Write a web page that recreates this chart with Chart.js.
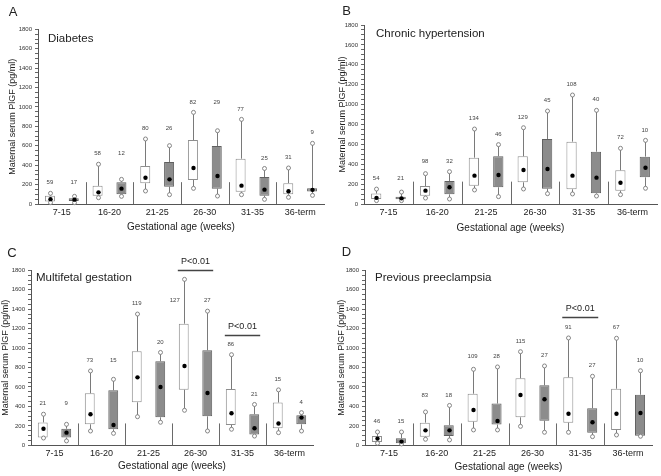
<!DOCTYPE html>
<html>
<head>
<meta charset="utf-8">
<script src="https://cdn.jsdelivr.net/npm/chart.js@4.4.0/dist/chart.umd.min.js"></script>
<style>
  body { margin: 0; background: #fff; width: 661px; height: 476px; position: relative; overflow: hidden; }
  canvas { position: absolute; }
</style>
</head>
<body>
<canvas id="cA" width="330" height="236" style="left:0;top:0"></canvas>
<canvas id="cB" width="331" height="236" style="left:330px;top:0"></canvas>
<canvas id="cC" width="330" height="240" style="left:0;top:236px"></canvas>
<canvas id="cD" width="331" height="240" style="left:330px;top:236px"></canvas>
<script>
/* ===== DATA (box = [min, q1, median, q3, max]) ===== */
const groups = ["7-15", "16-20", "21-25", "26-30", "31-35", "36-term"];

const diabetesWhite = [[14, 26, 50, 86, 110], [65, 86, 120, 187, 410], [134, 213, 271, 392, 670], [161, 247, 371, 659, 944], [96, 127, 189, 467, 872], [69, 100, 131, 215, 371]];
const diabetesGray = [[14, 30, 45, 58, 79], [79, 100, 158, 225, 254], [96, 179, 254, 433, 601], [82, 158, 288, 597, 755], [48, 86, 148, 278, 366], [89, 130, 146, 162, 625]];
const diabetesNWhite = [59, 58, 80, 82, 77, 31];
const diabetesNGray = [17, 12, 26, 29, 25, 9];

const hypertensionWhite = [[34, 50, 62, 105, 150], [60, 84, 134, 181, 305], [141, 184, 285, 466, 754], [151, 218, 342, 480, 767], [101, 148, 285, 627, 1096], [94, 134, 214, 339, 560]];
const hypertensionGray = [[34, 47, 57, 74, 120], [50, 97, 168, 231, 325], [74, 168, 292, 480, 597], [104, 154, 352, 654, 935], [80, 107, 265, 526, 942], [158, 268, 365, 476, 640]];
const hypertensionNWhite = [54, 98, 134, 129, 108, 72];
const hypertensionNGray = [21, 32, 46, 45, 40, 10];

const multifetalWhite = [[75, 80, 171, 235, 320], [147, 216, 319, 535, 765], [294, 442, 699, 967, 1350], [360, 572, 816, 1251, 1707], [165, 209, 329, 579, 932], [130, 175, 225, 440, 570]];
const multifetalGray = [[45, 79, 130, 171, 216], [123, 165, 209, 565, 679], [237, 288, 600, 864, 955], [147, 298, 538, 977, 1380], [95, 110, 175, 320, 420], [147, 216, 285, 309, 336]];
const multifetalNWhite = [21, 73, 119, 127, 86, 15];
const multifetalNGray = [9, 15, 20, 27, 21, 4];

const previousWhite = [[21, 34, 69, 96, 137], [62, 89, 154, 233, 343], [158, 243, 363, 531, 782], [195, 288, 517, 689, 963], [134, 233, 325, 699, 1104], [106, 157, 325, 582, 1101]];
const previousGray = [[14, 21, 38, 72, 137], [55, 96, 154, 206, 410], [158, 213, 250, 429, 806], [134, 253, 473, 617, 816], [89, 130, 237, 381, 710], [93, 99, 332, 520, 767]];
const previousNWhite = [46, 83, 109, 115, 91, 67];
const previousNGray = [15, 18, 28, 27, 27, 10];

// P<0.01 brackets: group index and level (pg/ml)
const multifetalBrackets = [[3, 1806], [4, 1134]];
const previousBrackets = [[4, 1317]];

const FONT = "'Liberation Sans', Arial, sans-serif";

/* ===== PANELS ===== */
// shared: 0 = N above own whisker, 1 = pair at same height, 2 = at grey height, white label beside whisker
const panels = {
  cA: { letter: "A", name: "Diabetes", white: diabetesWhite, gray: diabetesGray, nW: diabetesNWhite, nG: diabetesNGray,
        shared: [1, 1, 1, 1, 0, 0], brackets: [],
        area: { left: 38, right: 324, top: 29.3, bottom: 204 }, letterPos: [13, 12], namePos: [48, 38.5], yTitleX: 12.5, xTitleDy: 23 },
  cB: { letter: "B", name: "Chronic hypertension", white: hypertensionWhite, gray: hypertensionGray, nW: hypertensionNWhite, nG: hypertensionNGray,
        shared: [1, 1, 0, 0, 0, 0], brackets: [],
        area: { left: 34, right: 327, top: 25, bottom: 204 }, letterPos: [16.5, 11.5], namePos: [46, 33.5], yTitleX: 13, xTitleDy: 24 },
  cC: { letter: "C", name: "Multifetal gestation", white: multifetalWhite, gray: multifetalGray, nW: multifetalNWhite, nG: multifetalNGray,
        shared: [1, 1, 0, 2, 0, 0], brackets: multifetalBrackets,
        area: { left: 31, right: 313, top: 34.3, bottom: 209.3 }, letterPos: [12, 17], namePos: [36, 42], yTitleX: 6, xTitleDy: 21 },
  cD: { letter: "D", name: "Previous preeclampsia", white: previousWhite, gray: previousGray, nW: previousNWhite, nG: previousNGray,
        shared: [1, 1, 1, 0, 0, 0], brackets: previousBrackets,
        area: { left: 35, right: 322, top: 34.3, bottom: 209.3 }, letterPos: [16.5, 16.5], namePos: [45, 42], yTitleX: 11.5, xTitleDy: 21.5 }
};

function line(ctx, x1, y1, x2, y2) {
  ctx.beginPath(); ctx.moveTo(x1, y1); ctx.lineTo(x2, y2); ctx.stroke();
}

/* ===== BOX PLOT PLUGIN ===== */
const boxPlugin = {
  id: "boxPlot",
  afterDatasetsDraw(chart) {
    const p = panels[chart.canvas.id];
    const ctx = chart.ctx, ys = chart.scales.y, xs = chart.scales.x;
    const Y = v => ys.getPixelForValue(v);
    const metaW = chart.getDatasetMeta(0), metaG = chart.getDatasetMeta(1);
    ctx.save();

    // group separators
    ctx.strokeStyle = "#6a6a6a"; ctx.lineWidth = 1;
    for (let i = 0; i < groups.length - 1; i++) {
      const sx = Math.round((xs.getPixelForValue(i) + xs.getPixelForValue(i + 1)) / 2) + 0.5;
      line(ctx, sx, Y(0), sx, Y(225));
    }

    // whiskers, end circles, medians
    [[p.white, metaW], [p.gray, metaG]].forEach(([series, meta]) => {
      series.forEach((b, i) => {
        const bx = Math.round(meta.data[i].x) + 0.5;
        ctx.strokeStyle = "#7a7a7a"; ctx.lineWidth = 1;
        line(ctx, bx, Y(b[0]), bx, Y(b[1]));
        line(ctx, bx, Y(b[3]), bx, Y(b[4]));
        ctx.fillStyle = "#fff"; ctx.lineWidth = 0.9;
        [b[0], b[4]].forEach(v => {
          ctx.beginPath(); ctx.arc(bx, Y(v), 2, 0, Math.PI * 2); ctx.fill(); ctx.stroke();
        });
        ctx.fillStyle = "#000";
        ctx.beginPath(); ctx.arc(bx, Y(b[2]), 2.2, 0, Math.PI * 2); ctx.fill();
      });
    });

    // N labels
    ctx.font = "6px " + FONT; ctx.fillStyle = "#444";
    ctx.textAlign = "center"; ctx.textBaseline = "middle";
    groups.forEach((g, i) => {
      const wMax = p.white[i][4], gMax = p.gray[i][4];
      let wl = wMax, gl = gMax, wdx = 0;
      if (p.shared[i] === 1) wl = gl = Math.max(wMax, gMax);
      if (p.shared[i] === 2) { wl = gl = gMax; wdx = -9; }
      ctx.fillText(String(p.nW[i]), metaW.data[i].x + wdx, Y(wl) - 10.5);
      ctx.fillText(String(p.nG[i]), metaG.data[i].x, Y(gl) - 10.5);
    });

    // P<0.01 brackets
    p.brackets.forEach(([gi, level]) => {
      const w = metaW.data[gi], gr = metaG.data[gi];
      const x1 = w.x - w.width / 2 - 1, x2 = gr.x + gr.width / 2 + 1;
      const ly = Math.round(Y(level)) + 0.5;
      ctx.strokeStyle = "#444"; ctx.lineWidth = 1.4;
      line(ctx, x1, ly, x2, ly);
      ctx.font = "9px " + FONT; ctx.fillStyle = "#222";
      ctx.fillText("P<0.01", (x1 + x2) / 2, ly - 9);
    });
    ctx.restore();
  },
  afterDraw(chart) {
    const p = panels[chart.canvas.id];
    const ctx = chart.ctx, a = chart.chartArea;
    ctx.save();
    ctx.fillStyle = "#222"; ctx.textBaseline = "middle";
    // panel letter
    ctx.font = "13px " + FONT; ctx.textAlign = "center";
    ctx.fillText(p.letter, p.letterPos[0], p.letterPos[1]);
    // panel name
    ctx.font = "11.5px " + FONT; ctx.textAlign = "left";
    ctx.fillText(p.name, p.namePos[0], p.namePos[1]);
    // x title
    ctx.font = "10px " + FONT; ctx.textAlign = "center";
    ctx.fillText("Gestational age (weeks)", (a.left + a.right) / 2, a.bottom + p.xTitleDy);
    // y title
    ctx.translate(p.yTitleX, (a.top + a.bottom) / 2);
    ctx.rotate(-Math.PI / 2);
    ctx.font = "9px " + FONT;
    ctx.fillText("Maternal serum PlGF (pg/ml)", 0, 0);
    ctx.restore();
  }
};

function makePanel(id) {
  const p = panels[id];
  const cv = document.getElementById(id);
  const XH = 14;
  new Chart(cv, {
    type: "bar",
    data: {
      labels: groups,
      datasets: [
        { data: p.white.map(b => [b[1], b[3]]), backgroundColor: "#ffffff", borderColor: "#8e8e8e", borderWidth: 1, borderSkipped: false },
        { data: p.gray.map(b => [b[1], b[3]]), backgroundColor: "#8c8c8c", borderColor: "#606060", borderWidth: 1, borderSkipped: false }
      ]
    },
    options: {
      responsive: false,
      animation: false,
      events: [],
      layout: { padding: { left: 0, top: p.area.top, right: cv.width - p.area.right, bottom: cv.height - p.area.bottom - XH } },
      datasets: { bar: { categoryPercentage: 1, barPercentage: 0.42 } },
      plugins: { legend: { display: false }, tooltip: { enabled: false } },
      scales: {
        x: {
          grid: { display: false, drawTicks: false },
          border: { color: "#555", width: 1 },
          ticks: { padding: 3, color: "#222", font: { size: 9, family: FONT } },
          afterFit: s => { s.height = XH; }
        },
        y: {
          min: 0, max: 1800,
          grid: { drawOnChartArea: false, tickLength: 3, color: "#666" },
          border: { color: "#555", width: 1 },
          ticks: {
            stepSize: 50, autoSkip: false, padding: 3, color: "#333",
            font: { size: 6, family: FONT },
            callback: v => (v % 200 === 0 ? String(v) : "")
          },
          afterFit: s => { s.width = p.area.left; }
        }
      }
    },
    plugins: [boxPlugin]
  });
}

Object.keys(panels).forEach(makePanel);
</script>
</body>
</html>
